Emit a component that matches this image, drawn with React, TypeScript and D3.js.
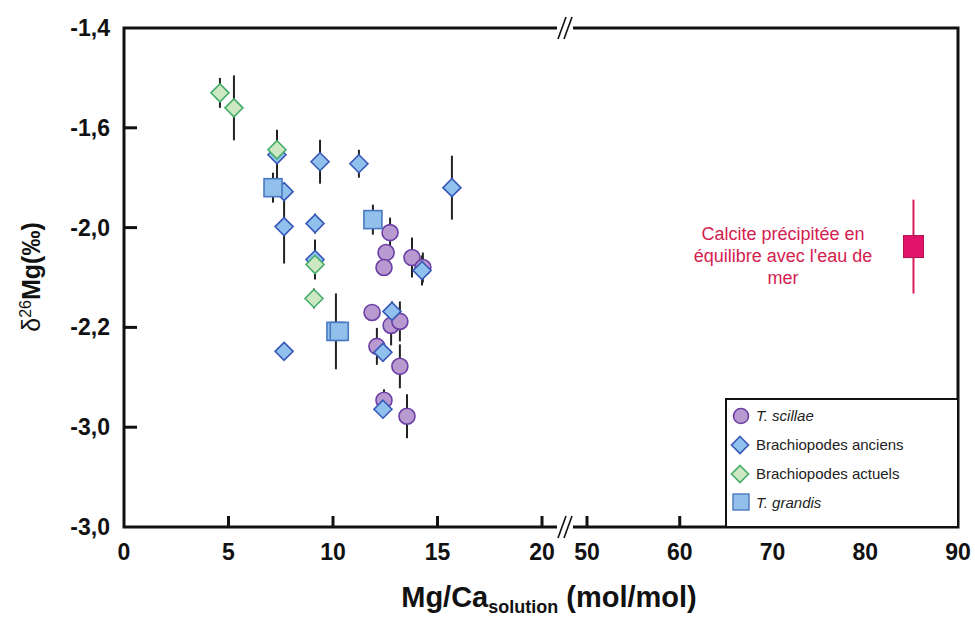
import React from "react";
import * as d3 from "d3";

// ---- Data ----
const yTickValues = [-1.4, -1.6, -1.8, -2.0, -2.2, -2.4];
const yTickLabels = ["-1,4", "-1,6", "-2,0", "-2,2", "-3,0", "-3,0"];
const xTicksLeft = [0, 5, 10, 15, 20];
const xTicksRight = [50, 60, 70, 80, 90];

const scillaeX = [12.73, 12.54, 12.44, 13.78, 14.3, 11.87, 12.78, 13.2, 12.1, 13.2, 12.44, 13.54];
const scillaeY = [-1.81, -1.85, -1.88, -1.86, -1.88, -1.97, -1.996, -1.988, -2.038, -2.078, -2.146, -2.178];
const scillaeErr = [0.03, 0.015, 0, 0.04, 0.03, 0, 0.04, 0.04, 0.037, 0.044, 0.022, 0.044];

const anciensX = [7.32, 7.66, 7.66, 9.38, 11.24, 15.69, 9.14, 9.14, 7.66, 14.26, 12.82, 12.39, 12.39];
const anciensY = [-1.654, -1.728, -1.798, -1.668, -1.672, -1.72, -1.792, -1.864, -2.048, -1.886, -1.968, -2.05, -2.164];
const anciensErr = [0.05, 0, 0.074, 0.044, 0.028, 0.064, 0.02, 0.04, 0, 0.03, 0.02, 0, 0];

const actuelsX = [4.59, 5.26, 7.32, 9.14, 9.09];
const actuelsY = [-1.53, -1.56, -1.644, -1.874, -1.942];
const actuelsErr = [0.03, 0.065, 0.038, 0, 0.02];

const grandisX = [7.13, 11.91, 10.14, 10.3];
const grandisY = [-1.72, -1.784, -2.008, -2.008];
const grandisErr = [0.03, 0.03, 0.076, 0];

const calciteX = [85.2];
const calciteY = [-1.838];
const calciteErr = [0.094];

const legendLabels = ["T. scillae", "Brachiopodes anciens", "Brachiopodes actuels", "T. grandis"];
const annotationLines = ["Calcite précipitée en", "équilibre avec l'eau de", "mer"];

// ---- Layout ----
const W = 975;
const H = 621;
const left = 124;
const right = 958;
const top = 28;
const bottom = 527;

const xL = d3.scaleLinear().domain([0, 20]).range([left, 542]);
const xR = d3.scaleLinear().domain([50, 90]).range([587, right]);
const xs = (v: number) => (v <= 35 ? xL(v) : xR(v));
const ys = d3.scaleLinear().domain([-1.4, -2.4]).range([top, bottom]);
const breakX = 565;

const FONT = "'Liberation Sans', Arial, sans-serif";

const diamond = (s: number) => `M0,${-s}L${s},0L0,${s}L${-s},0Z`;

function ErrBars({ xv, yv, ev, color = "#222" }: { xv: number[]; yv: number[]; ev: number[]; color?: string }) {
  return (
    <g>
      {xv.map((x, i) =>
        ev[i] > 0 ? (
          <line
            key={i}
            x1={xs(x)}
            x2={xs(x)}
            y1={ys(yv[i] + ev[i])}
            y2={ys(yv[i] - ev[i])}
            stroke={color}
            strokeWidth={2}
          />
        ) : null
      )}
    </g>
  );
}

const purple = { fill: "#b89ad0", stroke: "#6a3ea5" };
const blue = { fill: "#8fc1ec", stroke: "#3858b8" };
const green = { fill: "#cde8c2", stroke: "#45ad6a" };
const sq = { fill: "#91c0ea", stroke: "#4a78c2" };

export default function App() {
  const breakMark = (cx: number, cy: number) => (
    <g>
      <rect x={cx - 8} y={cy - 4} width={16} height={8} fill="white" />
      <line x1={cx - 7} y1={cy + 11} x2={cx + 1} y2={cy - 11} stroke="#111" strokeWidth={1.6} />
      <line x1={cx - 1} y1={cy + 11} x2={cx + 7} y2={cy - 11} stroke="#111" strokeWidth={1.6} />
    </g>
  );

  return (
    <svg
      width={W}
      height={H}
      style={{ position: "absolute", left: 0, top: 0, background: "white" }}
      fontFamily={FONT}
    >
      <rect x={0} y={0} width={W} height={H} fill="white" />

      {/* frame */}
      <path
        d={`M${left},${top}H${right}V${bottom}H${left}Z`}
        fill="none"
        stroke="#111"
        strokeWidth={3}
      />

      {/* y ticks */}
      {yTickValues.map((v, i) => (
        <g key={i}>
          {i > 0 && i < yTickValues.length - 1 && (
            <line x1={left} x2={left + 13} y1={ys(v)} y2={ys(v)} stroke="#111" strokeWidth={3} />
          )}
          <text
            x={110}
            y={ys(v) + 8}
            textAnchor="end"
            fontSize={23}
            fontWeight="bold"
            fill="#111"
          >
            {yTickLabels[i]}
          </text>
        </g>
      ))}

      {/* x ticks */}
      {xTicksLeft.map((v) => (
        <g key={"l" + v}>
          {v > 0 && <line x1={xL(v)} x2={xL(v)} y1={bottom} y2={bottom - 11} stroke="#111" strokeWidth={3} />}
          <text x={xL(v)} y={bottom + 33} textAnchor="middle" fontSize={23} fontWeight="bold" fill="#111">
            {v}
          </text>
        </g>
      ))}
      {xTicksRight.map((v) => (
        <g key={"r" + v}>
          {v < 90 && <line x1={xR(v)} x2={xR(v)} y1={bottom} y2={bottom - 11} stroke="#111" strokeWidth={3} />}
          <text x={xR(v)} y={bottom + 33} textAnchor="middle" fontSize={23} fontWeight="bold" fill="#111">
            {v}
          </text>
        </g>
      ))}

      {breakMark(breakX, top)}
      {breakMark(breakX, bottom)}

      {/* axis titles */}
      <text
        transform={`translate(40,277) rotate(-90)`}
        textAnchor="middle"
        fontSize={25}
        fill="#111"
      >
        <tspan fontWeight="normal">δ</tspan>
        <tspan fontSize={16} dy={-9} fontWeight="normal">26</tspan>
        <tspan dy={9} fontWeight="bold">Mg(‰)</tspan>
      </text>
      <text x={549} y={607} textAnchor="middle" fontSize={29} fontWeight="bold" fill="#111">
        <tspan>Mg/Ca</tspan>
        <tspan fontSize={18} dy={6}>solution</tspan>
        <tspan dy={-6}> (mol/mol)</tspan>
      </text>

      {/* error bars */}
      <ErrBars xv={scillaeX} yv={scillaeY} ev={scillaeErr} />
      <ErrBars xv={anciensX} yv={anciensY} ev={anciensErr} />
      <ErrBars xv={actuelsX} yv={actuelsY} ev={actuelsErr} />
      <ErrBars xv={grandisX} yv={grandisY} ev={grandisErr} />

      {/* T. scillae */}
      {scillaeX.map((x, i) => (
        <circle key={"c" + i} cx={xs(x)} cy={ys(scillaeY[i])} r={8} fill={purple.fill} stroke={purple.stroke} strokeWidth={1.6} />
      ))}
      {/* Brachiopodes anciens */}
      {anciensX.map((x, i) => (
        <path key={"a" + i} d={diamond(9)} transform={`translate(${xs(x)},${ys(anciensY[i])})`} fill={blue.fill} stroke={blue.stroke} strokeWidth={1.6} />
      ))}
      {/* Brachiopodes actuels */}
      {actuelsX.map((x, i) => (
        <path key={"g" + i} d={diamond(9)} transform={`translate(${xs(x)},${ys(actuelsY[i])})`} fill={green.fill} stroke={green.stroke} strokeWidth={1.6} />
      ))}
      {/* T. grandis */}
      {grandisX.map((x, i) => (
        <rect key={"s" + i} x={xs(x) - 9} y={ys(grandisY[i]) - 9} width={18} height={18} fill={sq.fill} stroke={sq.stroke} strokeWidth={1.6} />
      ))}

      {/* Calcite */}
      <ErrBars xv={calciteX} yv={calciteY} ev={calciteErr} color="#d81b5a" />
      {calciteX.map((x, i) => (
        <rect key={"p" + i} x={xs(x) - 10} y={ys(calciteY[i]) - 11} width={20} height={22} fill="#e2136a" stroke="#b0124e" strokeWidth={1} />
      ))}
      {annotationLines.map((t, i) => (
        <text key={"t" + i} x={783} y={240 + i * 22} textAnchor="middle" fontSize={18} fill="#d4204f">
          {t}
        </text>
      ))}

      {/* legend */}
      <rect x={726} y={399} width={right - 726} height={bottom - 399} fill="white" stroke="#111" strokeWidth={2} />
      <circle cx={741} cy={416} r={7.5} fill={purple.fill} stroke={purple.stroke} strokeWidth={1.6} />
      <path d={diamond(8.5)} transform="translate(740,445)" fill={blue.fill} stroke={blue.stroke} strokeWidth={1.6} />
      <path d={diamond(8.5)} transform="translate(740,474)" fill={green.fill} stroke={green.stroke} strokeWidth={1.6} />
      <rect x={733} y={494} width={16} height={16} fill={sq.fill} stroke={sq.stroke} strokeWidth={1.4} />
      {legendLabels.map((t, i) => (
        <text
          key={"lg" + i}
          x={756}
          y={421 + i * 29}
          fontSize={15}
          fontStyle={i === 0 || i === 3 ? "italic" : "normal"}
          fill="#222"
        >
          {t}
        </text>
      ))}
    </svg>
  );
}
